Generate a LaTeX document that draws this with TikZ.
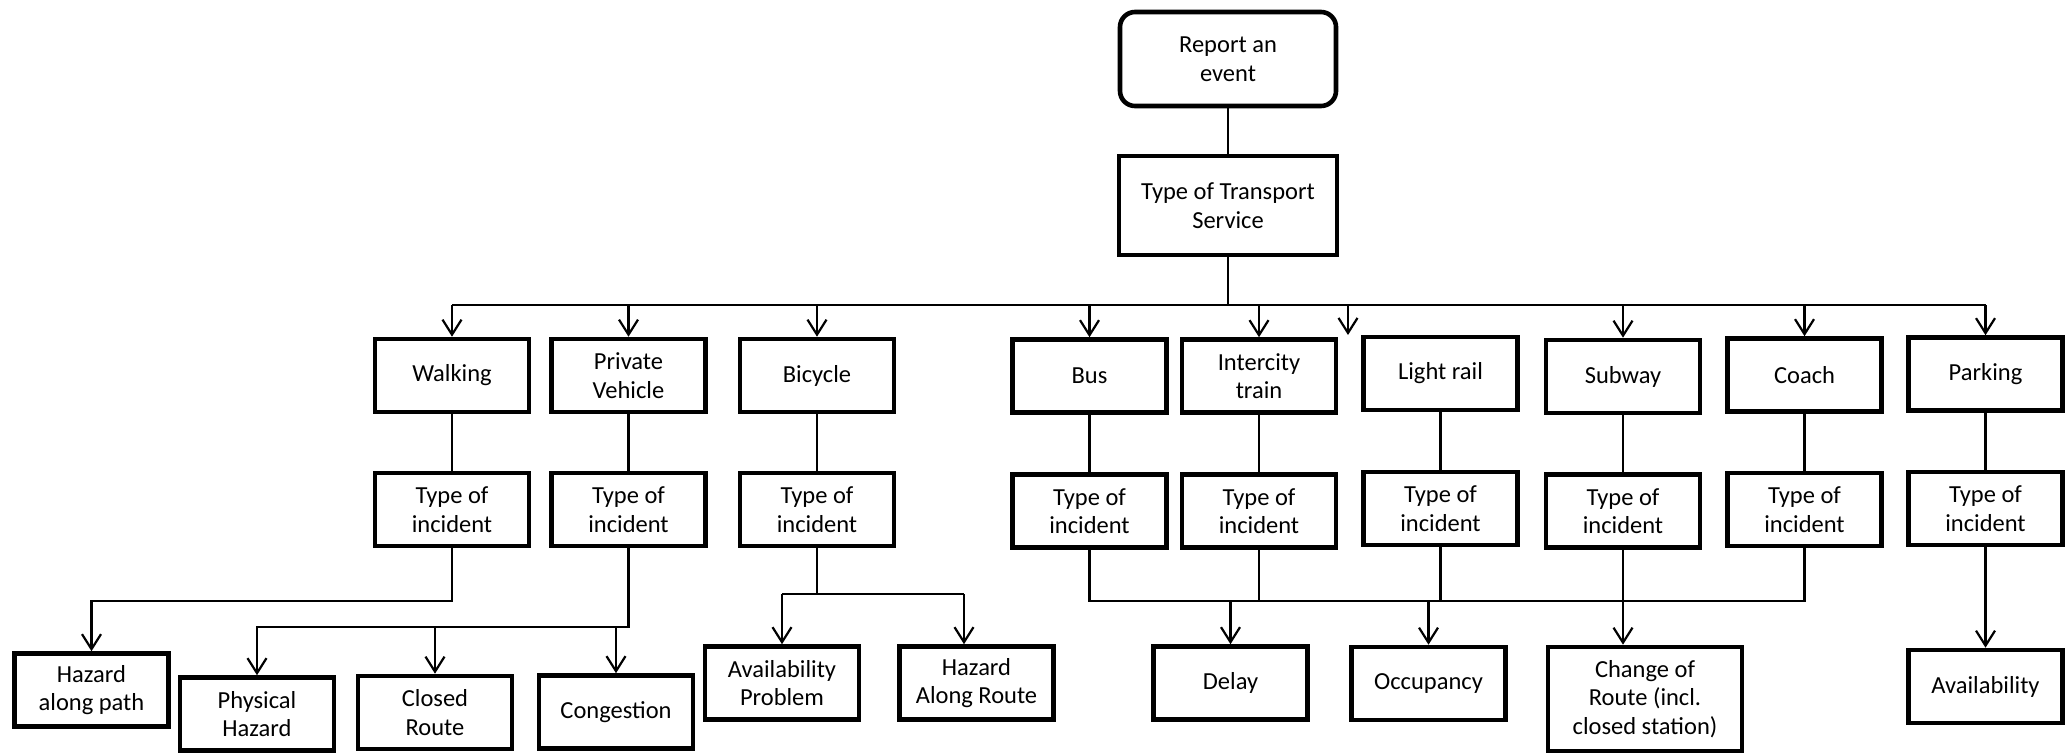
\documentclass[tikz,border=0pt]{standalone}
\usepackage{fontspec}
\setmainfont{Carlito}
\usetikzlibrary{arrows.meta,calc}
\begin{document}
\begin{tikzpicture}[x=1pt,y=-1pt,
  box/.style={draw, line width=4.6pt, minimum width=154pt, minimum height=73pt,
    inner sep=0pt, align=center, font=\fontsize{24.5}{28.5}\selectfont},
  link/.style={line width=2.2pt},
  arr/.style={line width=2.2pt, -{Straight Barb[length=15pt,width=19pt]}},
]
\useasboundingbox (0,0) rectangle (2072,755);

% root and service selector
\node[box, rounded corners=15pt, minimum width=216pt, minimum height=94pt] (report) at (1228,59) {Report an\\event};
\node[box, minimum width=218pt, minimum height=99pt] (tts) at (1228,205.5) {Type of Transport\\Service};

% transport modes
\node[box] (walk)  at (452,375.5)   {Walking};
\node[box] (pv)    at (628.5,375.5) {Private\\Vehicle};
\node[box] (bike)  at (817,375.5)   {Bicycle};
\node[box] (bus)   at (1089.5,376)  {Bus};
\node[box] (inter) at (1259,376)    {Intercity\\train};
\node[box] (light) at (1440.5,373.5){Light rail};
\node[box] (sub)   at (1623,376.5)  {Subway};
\node[box] (coach) at (1804.5,375)  {Coach};
\node[box] (park)  at (1985.5,374)  {Parking};

% incident selectors
\node[box] (twalk)  at (452,509.5)   {Type of\\incident};
\node[box] (tpv)    at (628.5,509.5) {Type of\\incident};
\node[box] (tbike)  at (817,509.5)   {Type of\\incident};
\node[box] (tbus)   at (1089.5,511)  {Type of\\incident};
\node[box] (tinter) at (1259,511)    {Type of\\incident};
\node[box] (tlight) at (1440.5,508.5){Type of\\incident};
\node[box] (tsub)   at (1623,511)    {Type of\\incident};
\node[box] (tcoach) at (1804.5,509.5){Type of\\incident};
\node[box] (tpark)  at (1985.5,508.5){Type of\\incident};

% incident types
\node[box] (hpath)   at (91.5,690)   {Hazard\\along path};
\node[box] (phys)    at (257,714)    {Physical\\Hazard};
\node[box] (closed)  at (435,712.5)  {Closed\\Route};
\node[box] (cong)    at (616,712)    {Congestion};
\node[box] (avprob)  at (782,683)    {Availability\\Problem};
\node[box] (hroute)  at (976.5,683)  {Hazard\\Along Route};
\node[box] (delay)   at (1230.5,683) {Delay};
\node[box] (occ)     at (1428.5,683.5){Occupancy};
\node[box, minimum width=194pt, minimum height=104pt] (change) at (1645,699) {Change of\\Route (incl.\\closed station)};
\node[box] (avail)   at (1985.5,686.5){Availability};

% junction levels
\coordinate (bar) at (1228,305);
\coordinate (wj) at (0,601);
\coordinate (pj) at (0,627);
\coordinate (bj) at (0,594);
\coordinate (tj) at (0,601);
\coordinate (stray) at (1348,335);
\coordinate (hrtop) at ([xshift=-12.5pt]hroute.north);

% top of the tree
\draw[link] (report) -- (tts);
\draw[link] (tts.south) -- (bar);
\draw[link] (walk.north |- bar) -- (park.north |- bar);
\foreach \n in {walk,pv,bike,bus,inter,sub,coach,park}
  \draw[arr] (\n.north |- bar) -- (\n.north);
\draw[arr] (stray |- bar) -- (stray);

% mode to incident selector
\foreach \a/\b in {walk/twalk,pv/tpv,bike/tbike,bus/tbus,inter/tinter,light/tlight,sub/tsub,coach/tcoach,park/tpark}
  \draw[link] (\a) -- (\b);

% walking
\draw[arr] (twalk.south) |- (hpath.north |- wj) -- (hpath.north);

% private vehicle
\draw[arr] (tpv.south) |- (phys.north |- pj) -- (phys.north);
\draw[arr] (closed.north |- pj) -- (closed.north);
\draw[arr] (cong.north |- pj) -- (cong.north);

% bicycle
\draw[link] (tbike.south) -- (tbike.south |- bj);
\draw[link] (avprob.north |- bj) -- (hrtop |- bj);
\draw[arr] (avprob.north |- bj) -- (avprob.north);
\draw[arr] (hrtop |- bj) -- (hrtop);

% public transport
\draw[link] (tbus.south) |- (tcoach.south |- tj) -- (tcoach.south);
\foreach \n in {tinter,tlight,tsub}
  \draw[link] (\n.south) -- (\n.south |- tj);
\draw[arr] (delay.north |- tj) -- (delay.north);
\draw[arr] (occ.north |- tj) -- (occ.north);
\draw[arr] (tsub.south |- tj) -- (tsub.south |- change.north);

% parking
\draw[arr] (tpark) -- (avail);
\end{tikzpicture}
\end{document}
